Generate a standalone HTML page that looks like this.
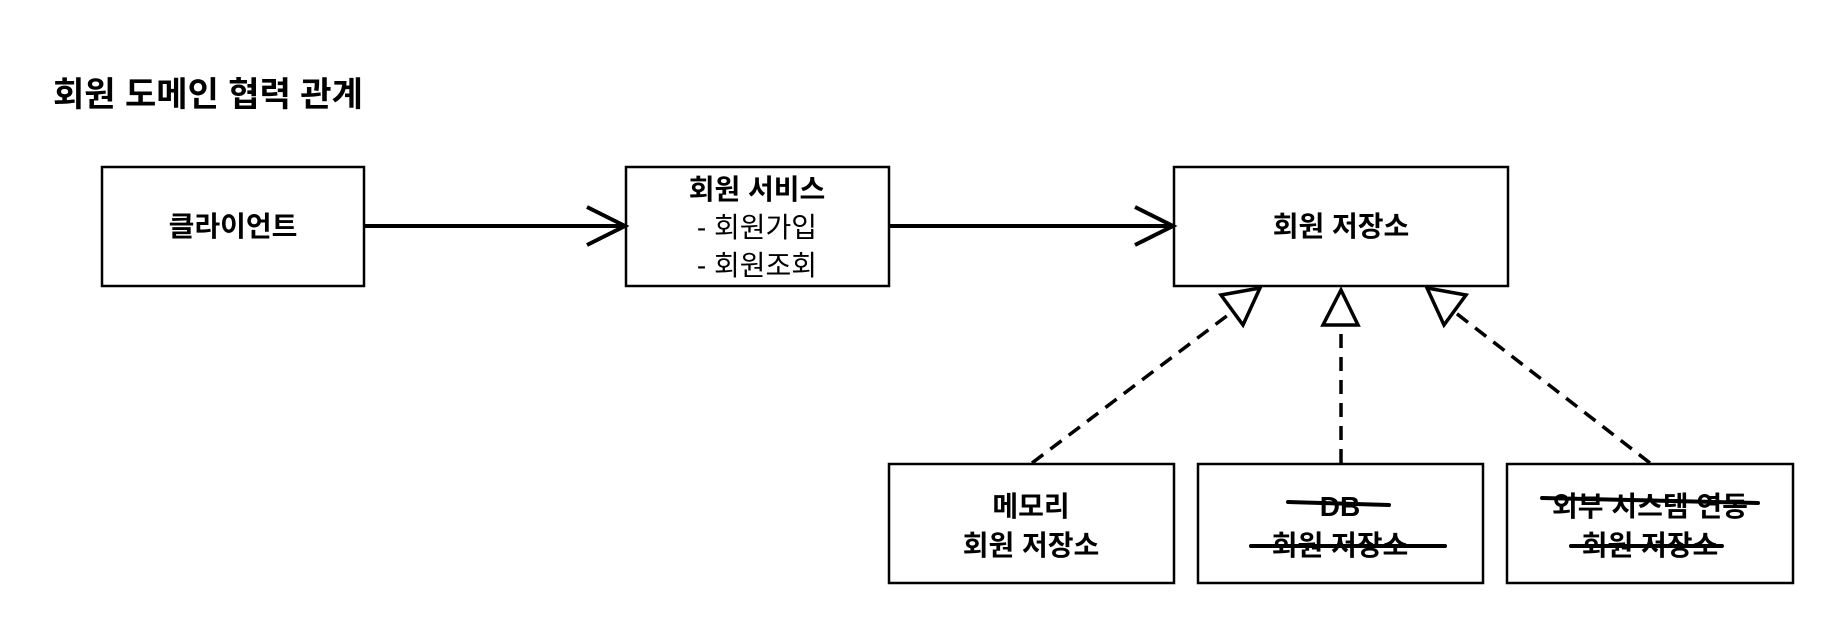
<!DOCTYPE html>
<html><head><meta charset="utf-8"><style>
html,body{margin:0;padding:0;background:#fff;}
svg{display:block;}
text{font-family:"Liberation Sans","Noto Sans CJK KR",sans-serif;fill:#000;}
</style></head><body>
<svg width="1836" height="638" viewBox="0 0 1836 638" xmlns="http://www.w3.org/2000/svg">
<text x="53" y="106" font-size="34" font-weight="bold">회원 도메인 협력 관계</text>
<g fill="#fff" stroke="#000" stroke-width="2.5">
<rect x="102" y="167" width="262" height="119"/>
<rect x="626" y="167" width="263" height="119"/>
<rect x="1174" y="167" width="334" height="119"/>
<rect x="889" y="464" width="285" height="119"/>
<rect x="1198" y="464" width="285" height="119"/>
<rect x="1507" y="464" width="286" height="119"/>
</g>
<g font-size="28" text-anchor="middle" font-weight="bold">
<text x="233" y="236">클라이언트</text>
<text x="757" y="199">회원 서비스</text>
<text x="757" y="237" font-weight="normal">- 회원가입</text>
<text x="757" y="275" font-weight="normal">- 회원조회</text>
<text x="1341" y="236">회원 저장소</text>
<text x="1031" y="516">메모리</text>
<text x="1031" y="555">회원 저장소</text>
<text x="1340" y="516">DB</text>
<text x="1340" y="555">회원 저장소</text>
<text x="1650" y="516">외부 시스템 연동</text>
<text x="1650" y="555">회원 저장소</text>
</g>
<g stroke="#000" stroke-width="4" stroke-linecap="round" fill="none">
<line x1="1288" y1="502" x2="1389" y2="505"/>
<line x1="1251" y1="546" x2="1445" y2="546"/>
<line x1="1542" y1="498" x2="1758" y2="503"/>
<line x1="1571" y1="546" x2="1722" y2="546"/>
</g>
<g stroke="#000" stroke-width="4" fill="none">
<line x1="364" y1="226" x2="624" y2="226"/>
<polyline points="587,207 625,226 587,245"/>
<line x1="889" y1="226" x2="1172" y2="226"/>
<polyline points="1135,207 1173,226 1135,245"/>
</g>
<g stroke="#000" stroke-width="3.5" fill="none" stroke-dasharray="14,9">
<line x1="1032" y1="463" x2="1232" y2="312"/>
<line x1="1341" y1="463" x2="1341" y2="326"/>
<line x1="1650" y1="463" x2="1452" y2="310"/>
</g>
<g stroke="#000" stroke-width="3.5" fill="#fff" stroke-linejoin="miter">
<polygon points="1260,288 1221,295 1243,325"/>
<polygon points="1341,290 1323,325 1358,325"/>
<polygon points="1427,288 1466,295 1444,325"/>
</g>
</svg>
</body></html>
